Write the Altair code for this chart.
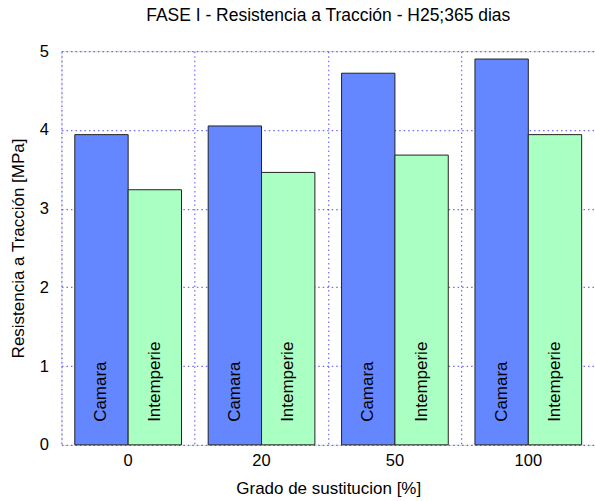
import altair as alt
import pandas as pd

# Tensile strength by replacement level, two curing conditions
grados = ["0", "20", "50", "100"]
camara = [3.94, 4.05, 4.72, 4.90]
intemperie = [3.24, 3.46, 3.68, 3.94]
series = ["Camara", "Intemperie"]
colores = ["#6487ff", "#aaffc3"]

rows = []
for g, c, i in zip(grados, camara, intemperie):
    rows.append({"Grado": g, "Serie": "Camara", "Valor": c})
    rows.append({"Grado": g, "Serie": "Intemperie", "Valor": i})
df = pd.DataFrame(rows)

FONT = "Liberation Sans"
GRID = "#3c3cf0"

x_enc = alt.X(
    "Grado:N",
    sort=grados,
    scale=alt.Scale(paddingInner=0, paddingOuter=0),
    axis=alt.Axis(
        title="Grado de sustitucion [%]",
        labelAngle=0,
        labelFont=FONT,
        titleFont=FONT,
        labelFontSize=16.5,
        titleFontSize=17,
        titleFontWeight="normal",
        labelPadding=8,
        titlePadding=11,
        ticks=False,
        domain=False,
        grid=True,
        bandPosition=0,
        gridColor=GRID,
        gridOpacity=0.75,
        gridDash=[1.5, 3],
        gridWidth=1.2,
    ),
)
xoff = alt.XOffset(
    "Serie:N",
    sort=series,
    scale=alt.Scale(paddingInner=0, paddingOuter=0.25),
)
y_enc = alt.Y(
    "Valor:Q",
    scale=alt.Scale(domain=[0, 5], nice=False),
    axis=alt.Axis(
        title="Resistencia a Tracción [MPa]",
        values=[0, 1, 2, 3, 4, 5],
        format="d",
        labelFont=FONT,
        titleFont=FONT,
        labelFontSize=16.5,
        titleFontSize=17,
        titleFontWeight="normal",
        labelPadding=13,
        titlePadding=12,
        ticks=False,
        domain=False,
        grid=True,
        gridColor=GRID,
        gridOpacity=0.75,
        gridDash=[1.5, 3],
        gridWidth=1.2,
    ),
)

bars = alt.Chart(df).mark_bar(stroke="#222222", strokeWidth=1).encode(
    x=x_enc,
    xOffset=xoff,
    y=y_enc,
    color=alt.Color("Serie:N", sort=series,
                    scale=alt.Scale(domain=series, range=colores), legend=None),
)

labels = alt.Chart(df).mark_text(
    angle=270, align="left", baseline="middle", dx=23,
    font=FONT, fontSize=17, color="black",
).encode(
    x=alt.X("Grado:N", sort=grados),
    xOffset=alt.XOffset("Serie:N", sort=series),
    y=alt.datum(0),
    text="Serie:N",
)

chart = (
    alt.layer(bars, labels)
    .properties(
        width=534,
        height=394,
        autosize=alt.AutoSizeParams(type="none"),
        padding={"left": 61.5, "top": 51, "right": 0, "bottom": 56},
        title=alt.TitleParams(
            "FASE I - Resistencia a Tracción - H25;365 dias",
            fontSize=17.5, fontWeight="normal", font=FONT, color="black",
            anchor="middle", offset=19,
        ),
    )
    .configure_view(stroke="#0000cc", strokeWidth=1.2)
    .configure_axis(labelColor="black", titleColor="black")
    .configure(background="white")
)

chart.save("out.html", embed_options={"renderer": "svg", "actions": False})
